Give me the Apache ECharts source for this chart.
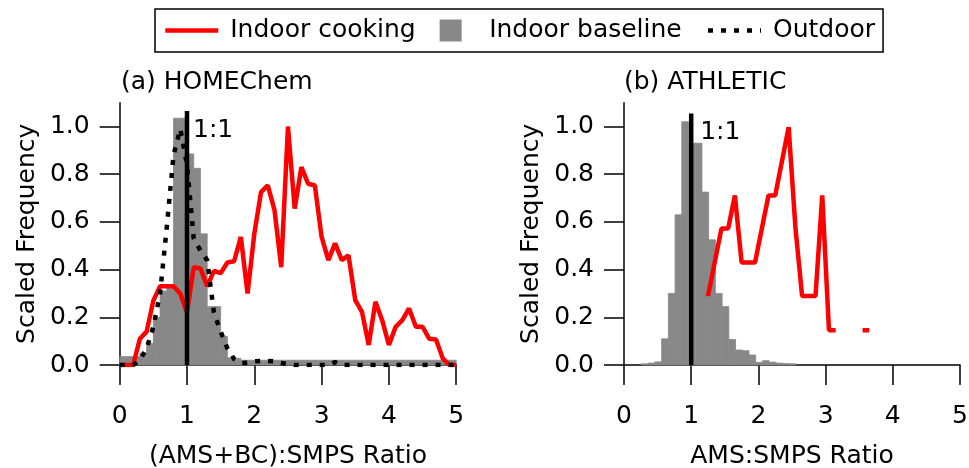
<!DOCTYPE html>
<html>
<head>
<meta charset="utf-8">
<script src="https://cdn.jsdelivr.net/npm/echarts@6/dist/echarts.min.js"></script>
<style>
  html, body { margin: 0; padding: 0; background: #fff; }
  #chart { width: 969px; height: 468px; }
</style>
</head>
<body>
<div id="chart"></div>
<script>
// ---- data ----
const xTicks = [0, 1, 2, 3, 4, 5]
const yTicks = [0, 0.2, 0.4, 0.6, 0.8, 1.0]
const binWidth = 0.1

// (a) HOMEChem - indoor baseline histogram (bin left edges / scaled frequency)
const homeBinStart = [0.0, 0.1, 0.2, 0.3, 0.4, 0.5, 0.6, 0.7, 0.8, 0.9,
  1.0, 1.1, 1.2, 1.3, 1.4, 1.5, 1.6, 1.7, 1.8, 1.9,
  2.0, 2.1, 2.2, 2.3, 2.4, 2.5, 2.6, 2.7, 2.8, 2.9,
  3.0, 3.1, 3.2, 3.3, 3.4, 3.5, 3.6, 3.7, 3.8, 3.9,
  4.0, 4.1, 4.2, 4.3, 4.4, 4.5, 4.6, 4.7, 4.8, 4.9]
const homeBaseline = [0.035, 0.035, 0.035, 0.05, 0.09, 0.2, 0.31, 0.33, 1.035, 1.035,
  0.885, 0.825, 0.55, 0.245, 0.245, 0.12, 0.03, 0.028, 0.02, 0.02,
  0.02, 0.02, 0.02, 0.02, 0.02, 0.02, 0.02, 0.02, 0.02, 0.02,
  0.02, 0.02, 0.02, 0.02, 0.02, 0.02, 0.02, 0.02, 0.02, 0.02,
  0.02, 0.02, 0.02, 0.02, 0.02, 0.02, 0.02, 0.02, 0.02, 0.02]

// (a) HOMEChem - indoor cooking and outdoor curves
const homeX = [0.0, 0.1, 0.2, 0.3, 0.4, 0.5, 0.6, 0.7, 0.8, 0.9,
  1.0, 1.1, 1.2, 1.3, 1.4, 1.5, 1.6, 1.7, 1.8, 1.9,
  2.0, 2.1, 2.2, 2.3, 2.4, 2.5, 2.6, 2.7, 2.8, 2.9,
  3.0, 3.1, 3.2, 3.3, 3.4, 3.5, 3.6, 3.7, 3.8, 3.9,
  4.0, 4.1, 4.2, 4.3, 4.4, 4.5, 4.6, 4.7, 4.8, 4.9, 5.0]
const homeCooking = [0, 0, 0, 0.11, 0.14, 0.27, 0.33, 0.33, 0.33, 0.30,
  0.22, 0.41, 0.405, 0.33, 0.395, 0.385, 0.43, 0.435, 0.537, 0.30,
  0.55, 0.725, 0.753, 0.65, 0.41, 1.0, 0.656, 0.83, 0.76, 0.753,
  0.537, 0.44, 0.51, 0.44, 0.46, 0.272, 0.223, 0.084, 0.265, 0.188,
  0.084, 0.16, 0.188, 0.237, 0.16, 0.16, 0.11, 0.107, 0.028, 0, 0]
const homeOutdoor = [0, 0, 0, 0.02, 0.07, 0.16, 0.3, 0.58, 0.88, 0.99,
  0.84, 0.53, 0.48, 0.44, 0.22, 0.14, 0.07, 0.025, 0.008, 0.01,
  0.015, 0.017, 0.017, 0.015, 0.008, 0.004, 0, 0, 0, 0,
  0, 0, 0.012, 0, 0, 0, 0, 0, 0, 0,
  0, 0, 0, 0, 0, 0, 0, 0, 0, 0, 0]

// (b) ATHLETIC - indoor baseline histogram
const athBinStart = [0.26, 0.36, 0.46, 0.56, 0.66, 0.76, 0.86, 0.96, 1.06, 1.16,
  1.26, 1.36, 1.46, 1.56, 1.66, 1.76, 1.86, 1.96, 2.06, 2.16,
  2.26, 2.36, 2.46]
const athBaseline = [0.005, 0.008, 0.013, 0.11, 0.30, 0.63, 1.02, 0.93, 0.93, 0.725,
  0.525, 0.30, 0.245, 0.107, 0.063, 0.06, 0.042, 0.011, 0.018, 0.012,
  0.008, 0.006, 0.005]

// (b) ATHLETIC - indoor cooking (gap between 3.15 and 3.55)
const athX = [1.25, 1.45, 1.55, 1.65, 1.75, 1.95, 2.15, 2.25, 2.45, 2.55,
  2.65, 2.85, 2.95, 3.05, 3.15, 3.35, 3.55, 3.65]
const athCooking = [0.289, 0.572, 0.572, 0.711, 0.43, 0.43, 0.711, 0.711, 0.997, 0.58,
  0.289, 0.289, 0.711, 0.146, 0.146, null, 0.146, 0.146]

// 1:1 reference lines
const oneX = [1, 1]
const homeOneY = [0, 1.065]
const athOneY = [0, 1.055]

const FONT = "'DejaVu Sans', sans-serif"
const GREY = '#888888'
const RED = '#ff0000'
const DOTS = [5, 8]

const chart = echarts.init(document.getElementById('chart'))

const pairs = (xs, ys) => xs.map((x, i) => [x, ys[i] === null ? '-' : ys[i]])
const bins = (starts, hs) => starts.map((s, i) => [s, s + binWidth, hs[i]])

const renderBin = (params, api) => {
  const p0 = api.coord([api.value(0), api.value(2)])
  const p1 = api.coord([api.value(1), 0])
  return {
    type: 'rect',
    shape: { x: p0[0], y: p0[1], width: p1[0] - p0[0], height: p1[1] - p0[1] },
    style: { fill: GREY, stroke: GREY, lineWidth: 0.8 }
  }
}

const oneLine = (idx, ys, dist) => ({
  type: 'line',
  xAxisIndex: idx, yAxisIndex: idx,
  data: pairs(oneX, ys).map((p, i) => i === 0 ? p : {
    value: p,
    label: {
      show: true, formatter: '1:1', position: 'right', distance: dist, offset: [0, 19],
      fontSize: 25, color: '#000', fontFamily: FONT
    }
  }),
  symbol: 'circle', symbolSize: 0, showSymbol: true,
  lineStyle: { color: '#000', width: 4.5 },
  z: 5, silent: true
})

const xAxis = (idx, name) => ({
  gridIndex: idx, type: 'value', min: xTicks[0], max: xTicks[xTicks.length - 1], interval: 1,
  name, nameLocation: 'middle', nameGap: 79, nameMoveOverlap: false,
  nameTextStyle: { fontSize: 25, color: '#000', fontFamily: FONT },
  axisLine: { show: true, lineStyle: { color: '#000', width: 1.5 } },
  axisTick: { show: true, length: 20, lineStyle: { color: '#000', width: 1.5 } },
  axisLabel: { margin: 39, fontSize: 25, color: '#000', fontFamily: FONT },
  splitLine: { show: false }
})

const yAxis = (idx) => ({
  gridIndex: idx, type: 'value', min: 0, max: 1.1, interval: 0.2,
  name: 'Scaled Frequency', nameLocation: 'middle', nameGap: 80, nameMoveOverlap: false,
  nameTextStyle: { fontSize: 25, color: '#000', fontFamily: FONT },
  axisLine: { show: true, lineStyle: { color: '#000', width: 1.5 } },
  axisTick: { show: true, length: 20, lineStyle: { color: '#000', width: 1.5 } },
  axisLabel: { margin: 30, fontSize: 25, color: '#000', fontFamily: FONT, showMaxLabel: false,
    formatter: v => (yTicks.some(t => Math.abs(t - v) < 1e-6) ? v.toFixed(1) : '') },
  splitLine: { show: false }
})

const lineLegend = (name, color, type) => ({
  name,
  itemStyle: { opacity: 0 },
  lineStyle: { color, width: 4.5, type }
})

const option = {
  animation: false,
  backgroundColor: '#fff',
  title: [
    { text: '(a) HOMEChem', left: 121, top: 70, padding: 0,
      textStyle: { fontSize: 25, fontWeight: 'normal', color: '#000', fontFamily: FONT } },
    { text: '(b) ATHLETIC', left: 624, top: 70, padding: 0,
      textStyle: { fontSize: 25, fontWeight: 'normal', color: '#000', fontFamily: FONT } }
  ],
  legend: {
    left: 155, top: 9,
    padding: [9, 8, 9, 8],
    borderColor: '#000', borderWidth: 1.5,
    itemGap: 24, itemWidth: 53, itemHeight: 22,
    textStyle: { fontSize: 25, color: '#000', fontFamily: FONT, padding: [0, 0, 0, 7] },
    data: [
      lineLegend('Indoor cooking', RED, 'solid'),
      { name: 'Indoor baseline', icon: 'path://M0 0H10V10H0Z' },
      lineLegend('Outdoor', '#000', DOTS)
    ]
  },
  grid: [
    { left: 119.7, top: 102.7, width: 336.5, height: 262.3, containLabel: false, outerBoundsMode: 'none' },
    { left: 624, top: 102.7, width: 336, height: 262.3, containLabel: false, outerBoundsMode: 'none' }
  ],
  xAxis: [xAxis(0, '(AMS+BC):SMPS Ratio'), xAxis(1, 'AMS:SMPS Ratio')],
  yAxis: [yAxis(0), yAxis(1)],
  series: [
    {
      name: 'Indoor baseline', type: 'custom', xAxisIndex: 0, yAxisIndex: 0,
      data: bins(homeBinStart, homeBaseline), encode: { x: [0, 1], y: 2 },
      renderItem: renderBin, itemStyle: { color: GREY }, z: 1, silent: true
    },
    {
      name: 'Indoor baseline', type: 'custom', xAxisIndex: 1, yAxisIndex: 1,
      data: bins(athBinStart, athBaseline), encode: { x: [0, 1], y: 2 },
      renderItem: renderBin, itemStyle: { color: GREY }, z: 1, silent: true
    },
    {
      name: 'Indoor cooking', type: 'line', xAxisIndex: 0, yAxisIndex: 0,
      data: pairs(homeX, homeCooking), symbol: 'none',
      lineStyle: { color: RED, width: 4.5 }, itemStyle: { color: RED }, z: 3
    },
    {
      name: 'Indoor cooking', type: 'line', xAxisIndex: 1, yAxisIndex: 1,
      data: pairs(athX, athCooking), symbol: 'none', connectNulls: false,
      lineStyle: { color: RED, width: 4.5 }, itemStyle: { color: RED }, z: 3
    },
    {
      name: 'Outdoor', type: 'line', xAxisIndex: 0, yAxisIndex: 0,
      data: pairs(homeX, homeOutdoor), symbol: 'none',
      lineStyle: { color: '#000', width: 4.5, type: DOTS }, itemStyle: { color: '#000' }, z: 4
    },
    oneLine(0, homeOneY, 6),
    oneLine(1, athOneY, 9)
  ]
}

chart.setOption(option)
</script>
</body>
</html>
